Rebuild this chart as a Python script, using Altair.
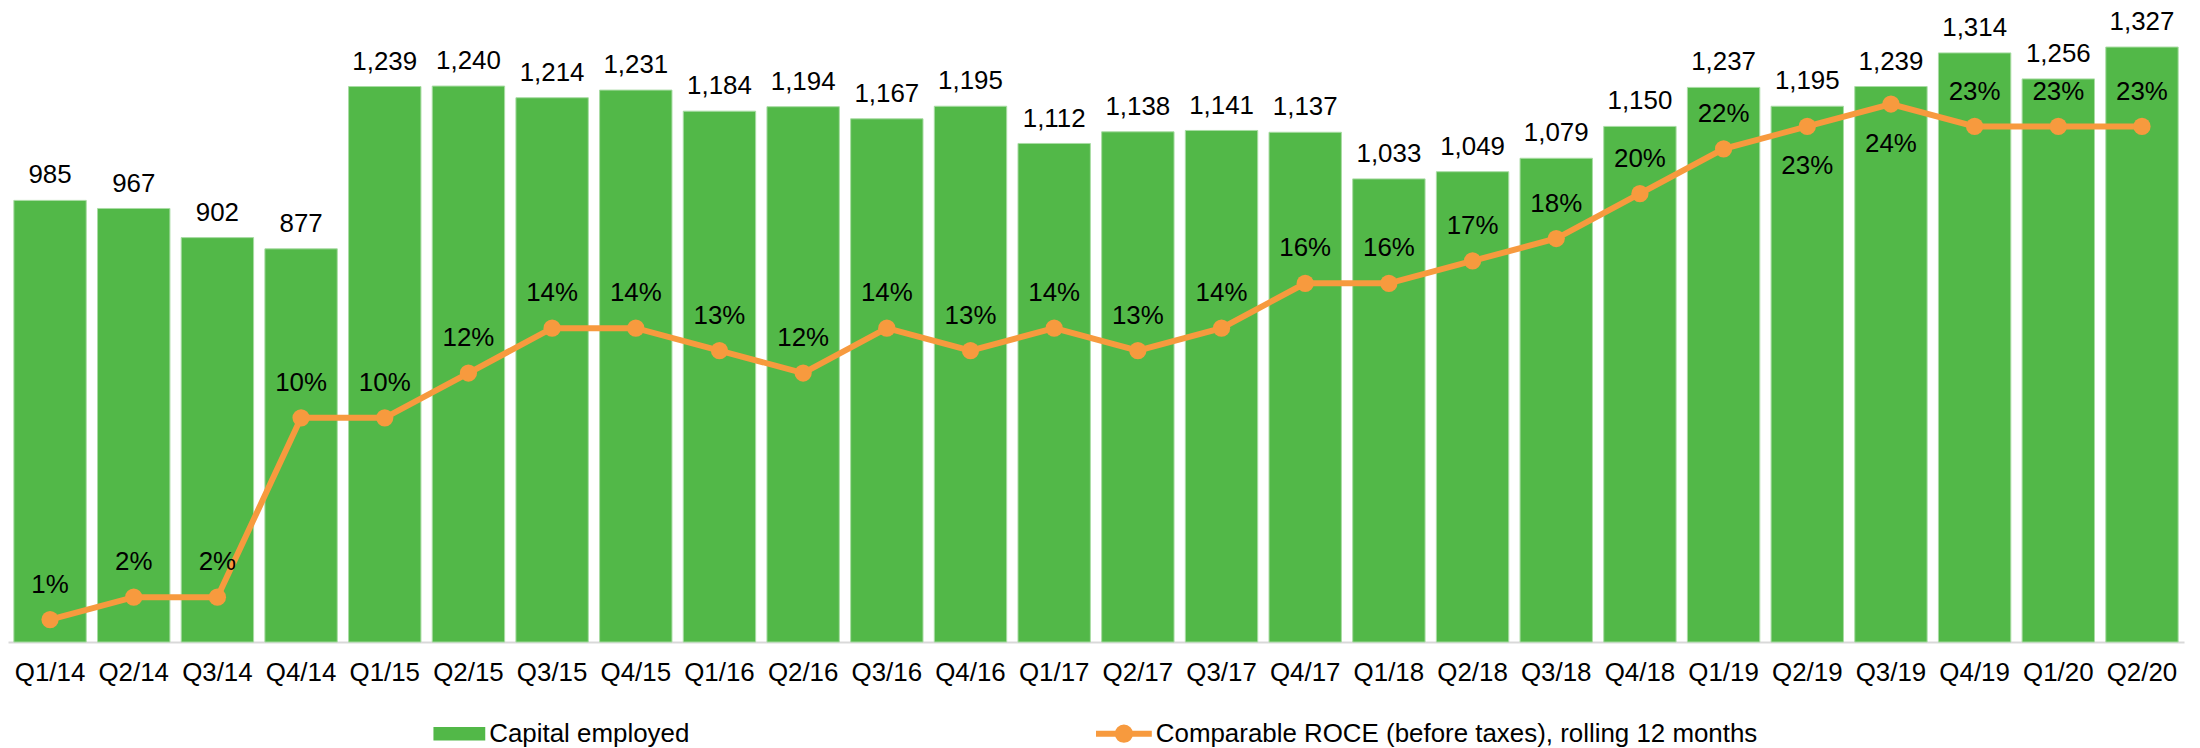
import altair as alt
import pandas as pd

quarters = ["Q1/14", "Q2/14", "Q3/14", "Q4/14", "Q1/15", "Q2/15", "Q3/15", "Q4/15",
            "Q1/16", "Q2/16", "Q3/16", "Q4/16", "Q1/17", "Q2/17", "Q3/17", "Q4/17",
            "Q1/18", "Q2/18", "Q3/18", "Q4/18", "Q1/19", "Q2/19", "Q3/19", "Q4/19",
            "Q1/20", "Q2/20"]
capital_employed = [985, 967, 902, 877, 1239, 1240, 1214, 1231,
                    1184, 1194, 1167, 1195, 1112, 1138, 1141, 1137,
                    1033, 1049, 1079, 1150, 1237, 1195, 1239, 1314,
                    1256, 1327]
roce_pct = [1, 2, 2, 10, 10, 12, 14, 14,
            13, 12, 14, 13, 14, 13, 14, 16,
            16, 17, 18, 20, 22, 23, 24, 23,
            23, 23]

BAR_NAME = "Capital employed"
LINE_NAME = "Comparable ROCE (before taxes), rolling 12 months"
labels_below = ["Q2/19", "Q3/19"]

GREEN = "#52B848"
ORANGE = "#F79A3E"
FONT = "Liberation Sans"
FS = 26

df = pd.DataFrame({"quarter": quarters, "capital": capital_employed, "roce": roce_pct})

x_enc = alt.X("quarter:N", sort=quarters,
              scale=alt.Scale(paddingInner=0.135, paddingOuter=0.07),
              axis=alt.Axis(title=None, labelAngle=0, labelFontSize=FS, labelFont=FONT,
                            labelColor="#000000", ticks=False, tickSize=0, labelPadding=31,
                            labelBaseline="middle", domainColor="#D9D9D9", domainWidth=2,
                            grid=False))

y_cap = alt.Y("capital:Q", scale=alt.Scale(domain=[0, 1400], nice=False), axis=None)
y_roce = alt.Y("roce:Q", scale=alt.Scale(domain=[0, 28], nice=False), axis=None)

base = alt.Chart(df)

bars = base.transform_calculate(series="'" + BAR_NAME + "'").mark_bar(
    stroke="#A9DCA4", strokeWidth=1
).encode(
    x=x_enc,
    y=y_cap,
    fill=alt.Fill("series:N", scale=alt.Scale(domain=[BAR_NAME], range=[GREEN]),
                  legend=alt.Legend(title=None, orient="none", legendX=427, legendY=696,
                                    padding=0,
                                    symbolType="M-1,-0.26H1V0.26H-1Z", symbolSize=2704,
                                    symbolStrokeWidth=0, symbolFillColor=GREEN,
                                    symbolOpacity=1, labelBaseline="middle",
                                    labelFontSize=FS, labelFont=FONT,
                                    labelColor="#000000", labelOffset=4, labelLimit=1000)),
)

bar_labels = base.mark_text(dy=-25, baseline="middle", fontSize=FS, font=FONT,
                            color="#000000").encode(
    x=alt.X("quarter:N", sort=quarters),
    y=y_cap,
    text=alt.Text("capital:Q", format=",d"),
)

line = base.transform_calculate(series="'" + LINE_NAME + "'").mark_line(
    strokeWidth=6
).encode(
    x=alt.X("quarter:N", sort=quarters),
    y=y_roce,
    stroke=alt.Stroke("series:N", scale=alt.Scale(domain=[LINE_NAME], range=[ORANGE]),
                      legend=alt.Legend(title=None, orient="none", legendX=1089, legendY=691,
                                        padding=0,
                                        symbolType="M-1,0H1M-0.22,0A0.22,0.22,0,1,1,0.22,0A0.22,0.22,0,1,1,-0.22,0Z",
                                        symbolSize=3136, symbolStrokeWidth=6,
                                        symbolFillColor=ORANGE, symbolStrokeColor=ORANGE,
                                        symbolOpacity=1, labelBaseline="middle",
                                        labelFontSize=FS, labelFont=FONT, labelColor="#000000",
                                        labelOffset=1, labelLimit=1000)),
)

points = base.mark_point(filled=True, size=300, color=ORANGE, opacity=1).encode(
    x=alt.X("quarter:N", sort=quarters),
    y=y_roce,
)

roce_text = base.transform_calculate(label="datum.roce + '%'")

roce_above = roce_text.transform_filter(
    alt.FieldOneOfPredicate(field="quarter", oneOf=[q for q in quarters if q not in labels_below])
).mark_text(dy=-35, baseline="middle", fontSize=FS, font=FONT, color="#000000").encode(
    x=alt.X("quarter:N", sort=quarters),
    y=y_roce,
    text="label:N",
)

roce_below = roce_text.transform_filter(
    alt.FieldOneOfPredicate(field="quarter", oneOf=labels_below)
).mark_text(dy=40, baseline="middle", fontSize=FS, font=FONT, color="#000000").encode(
    x=alt.X("quarter:N", sort=quarters),
    y=y_roce,
    text="label:N",
)

chart = alt.layer(bars, bar_labels, line, points, roce_above, roce_below).resolve_scale(
    y="independent", fill="independent", stroke="independent"
).properties(
    width=2184, height=630,
    autosize=alt.AutoSizeParams(type="none"),
    padding={"left": 0, "top": 5, "right": 8, "bottom": 105},
    background="#FFFFFF",
).configure_view(stroke=None)

chart.save("out.html", embed_options={"renderer": "svg", "actions": False})
